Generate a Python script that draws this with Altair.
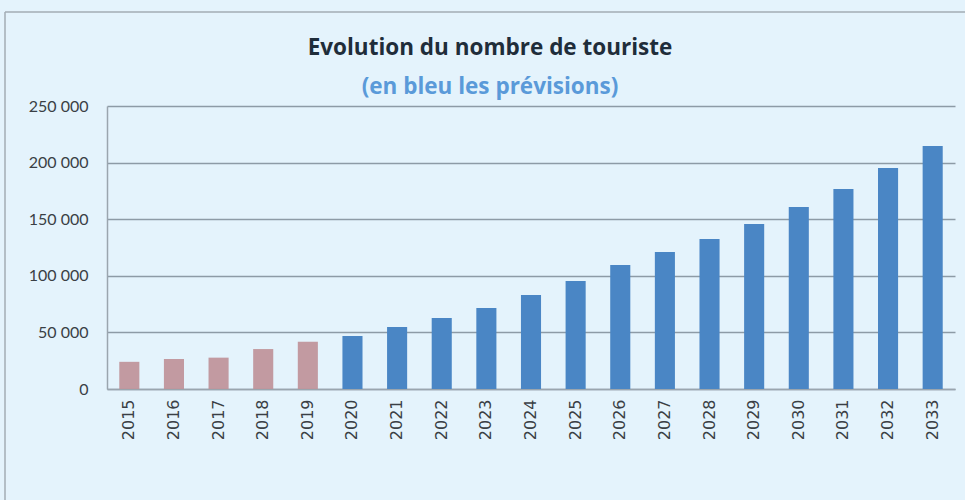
import altair as alt
import pandas as pd

years = [str(y) for y in range(2015, 2034)]
values = [24000, 26500, 27700, 35300, 41800, 46800, 54800, 62700, 71600, 83000,
          95400, 109500, 121000, 132500, 145800, 160800, 176700, 195200, 214700]
kinds = ["Historique"] * 5 + ["Prévision"] * 14

df = pd.DataFrame({"annee": years, "touristes": values, "type": kinds})

bars = alt.Chart(df).mark_bar().encode(
    x=alt.X("annee:N", sort=years, title=None,
            scale=alt.Scale(paddingInner=0.55, paddingOuter=0.275),
            axis=alt.Axis(labelAngle=-90, ticks=False, labelPadding=10,
                          labelFont="DejaVu Sans", labelFontSize=16,
                          labelColor="#3a3f45", domainColor="#9aa5ae",
                          domainWidth=1.5, grid=False)),
    y=alt.Y("touristes:Q", title=None,
            scale=alt.Scale(domain=[0, 250000], nice=False),
            axis=alt.Axis(values=[0, 50000, 100000, 150000, 200000, 250000],
                          labelExpr="replace(format(datum.value, ','), ',', ' ')",
                          ticks=False, labelPadding=19, labelFont="Lato",
                          labelFontSize=16, labelColor="#3a3f45",
                          domainColor="#9aa5ae", domainWidth=1.5,
                          gridColor="#8d9ba6", gridWidth=1.5)),
    color=alt.Color("type:N", legend=None,
                    scale=alt.Scale(domain=["Historique", "Prévision"],
                                    range=["#bf9399", "#4a86c5"])),
    opacity=alt.condition(alt.datum.type == "Historique", alt.value(0.92), alt.value(1.0)),
)

frame_data = alt.Data(values=[{"k": 1}])
left_line = alt.Chart(frame_data).mark_rule(color="#a3acb4", strokeWidth=1.5).encode(
    x=alt.value(-102), y=alt.value(-94), y2=alt.value(394))
top_line = alt.Chart(frame_data).mark_rule(color="#a3acb4", strokeWidth=1.5).encode(
    x=alt.value(-102), x2=alt.value(858), y=alt.value(-94))

chart = alt.layer(left_line, top_line, bars).properties(
    width=848, height=283,
    autosize=alt.AutoSizeParams(type="none"),
    padding={"left": 107, "top": 106, "right": 10, "bottom": 111},
    background="#e4f3fc",
    title=alt.TitleParams(
        text="Evolution du nombre de touriste",
        subtitle="(en bleu les prévisions)",
        font="Open Sans", fontSize=22.5, fontWeight="bold", color="#1f2d3a",
        subtitleFont="Open Sans", subtitleFontSize=22.5, subtitleFontWeight="bold",
        subtitleColor="#5a9ad9", anchor="middle", frame="bounds",
        offset=4, subtitlePadding=16, dy=91, dx=5),
).configure_view(stroke=None)

chart.save("out.html", embed_options={"renderer": "svg", "actions": False})
